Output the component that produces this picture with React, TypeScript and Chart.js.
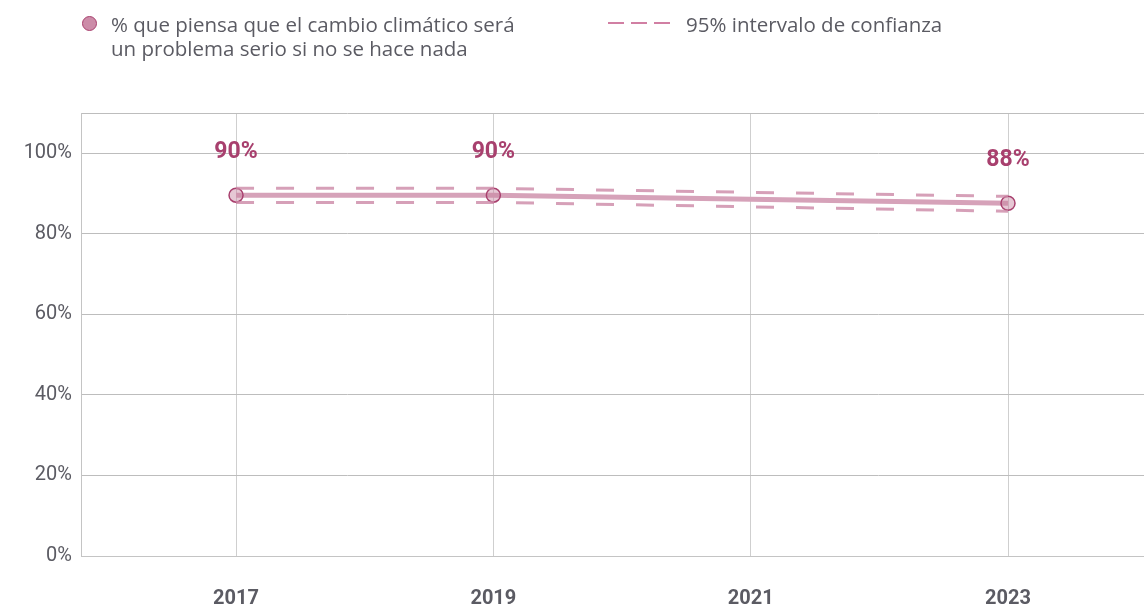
import React, { useEffect, useRef } from "react";
import { Chart, registerables } from "chart.js";

Chart.register(...registerables);

const years = [2017, 2019, 2023];
const tickYears = [2017, 2019, 2021, 2023];
const shareSerious = [89.6, 89.6, 87.6];
const shareLabels = ["90%", "90%", "88%"];
const ciUpper = [91.3, 91.3, 89.3];
const ciLower = [87.8, 87.8, 85.6];
const yTicks = [0, 20, 40, 60, 80, 100, 110];

const legendMain = ["% que piensa que el cambio climático será", "un problema serio si no se hace nada"];
const legendCI = "95% intervalo de confianza";

const PINK_DARK = "#a8406e";
const PINK_LINE = "#d6a2b9";
const TEXT_GREY = "#5b5b63";

const labelPlugin = {
  id: "pointLabels",
  afterDatasetsDraw(chart: any) {
    const meta = chart.getDatasetMeta(2);
    const ctx = chart.ctx;
    ctx.save();
    ctx.font = "bold 23px Roboto";
    ctx.fillStyle = PINK_DARK;
    ctx.textAlign = "center";
    ctx.textBaseline = "middle";
    meta.data.forEach((pt: any, i: number) => {
      ctx.fillText(shareLabels[i], pt.x, pt.y - 43);
    });
    ctx.restore();
  },
};

export default function App() {
  const ref = useRef<HTMLCanvasElement>(null);
  useEffect(() => {
    if (!ref.current) return;
    const mk = (vals: number[]) => years.map((x, i) => ({ x, y: vals[i] }));
    const chart = new Chart(ref.current, {
      type: "line",
      data: {
        datasets: [
          {
            data: mk(ciUpper),
            borderColor: "rgba(204,136,166,0.8)",
            borderWidth: 3,
            borderDash: [18, 22],
            pointRadius: 0,
            fill: false,
          },
          {
            data: mk(ciLower),
            borderColor: "rgba(204,136,166,0.8)",
            borderWidth: 3,
            borderDash: [18, 22],
            pointRadius: 0,
            fill: false,
          },
          {
            data: mk(shareSerious),
            borderColor: PINK_LINE,
            borderWidth: 5,
            pointRadius: 7,
            pointBackgroundColor: "rgba(200,130,160,0.45)",
            pointBorderColor: PINK_DARK,
            pointBorderWidth: 1.5,
            fill: false,
          },
        ],
      },
      options: {
        animation: false,
        responsive: false,
        maintainAspectRatio: false,
        layout: { autoPadding: false, padding: { top: 113, left: 0, right: 0, bottom: 0 } },
        plugins: { legend: { display: false }, tooltip: { enabled: false } },
        scales: {
          x: {
            type: "linear",
            min: 2015.795,
            max: 2024.057,
            afterBuildTicks: (s: any) => {
              s.ticks = tickYears.map((v) => ({ value: v }));
            },
            afterFit: (s: any) => {
              s.height = 50;
            },
            ticks: {
              padding: 31,
              color: TEXT_GREY,
              font: { family: "Roboto", size: 20, weight: "bold" },
              callback: (v: any) => String(v),
            },
            grid: { color: "#cfcfcf", lineWidth: 1, drawTicks: false },
            border: { color: "#c4c4c4", width: 1 },
          },
          y: {
            min: 0,
            max: 110,
            afterBuildTicks: (s: any) => {
              s.ticks = yTicks.map((v) => ({ value: v }));
            },
            afterFit: (s: any) => {
              s.width = 81;
            },
            ticks: {
              padding: 9,
              color: TEXT_GREY,
              font: { family: "Roboto", size: 20 },
              callback: (v: any) => (v > 100 ? "" : v + "%"),
            },
            grid: { color: "#bdbdbd", lineWidth: 1, drawTicks: false },
            border: { color: "#c4c4c4", width: 1 },
          },
        },
      },
      plugins: [labelPlugin],
    } as any);
    return () => chart.destroy();
  }, []);

  const legendText: React.CSSProperties = {
    position: "absolute",
    top: 12,
    fontFamily: "'Open Sans'",
    fontSize: 20.5,
    lineHeight: "24px",
    color: TEXT_GREY,
    whiteSpace: "nowrap",
  };

  return (
    <div style={{ position: "fixed", left: 0, top: 0, width: 1144, height: 606, background: "#fff" }}>
      <canvas ref={ref} width={1144} height={606} style={{ position: "absolute", left: 0, top: 0 }} />
      <div
        style={{
          position: "absolute",
          left: 82,
          top: 16,
          width: 15,
          height: 15,
          borderRadius: "50%",
          background: "#cc8ca8",
          border: `1.5px solid ${PINK_DARK}`,
          boxSizing: "border-box",
        }}
      />
      <div style={{ ...legendText, left: 111 }}>
        {legendMain.map((l, i) => (
          <div key={i}>{l}</div>
        ))}
      </div>
      <svg style={{ position: "absolute", left: 600, top: 15 }} width={80} height={20}>
        <line x1={8} y1={8} x2={72} y2={8} stroke="#c25585" strokeWidth={1.5} strokeDasharray="16 7" />
      </svg>
      <div style={{ ...legendText, left: 686 }}>{legendCI}</div>
    </div>
  );
}
